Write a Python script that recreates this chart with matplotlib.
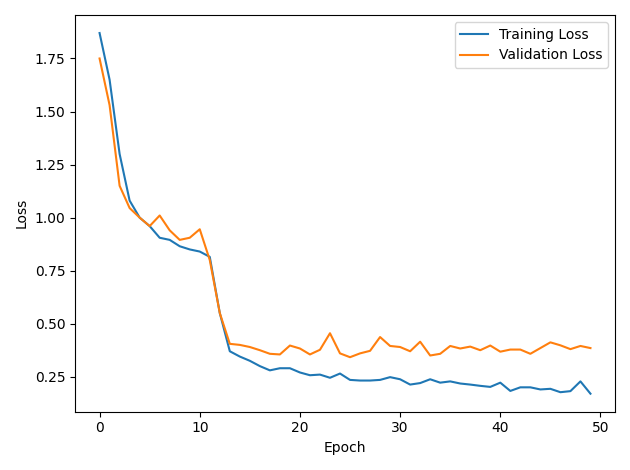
import matplotlib
matplotlib.use("Agg")
import matplotlib.pyplot as plt

epochs = list(range(50))
train_loss = [1.87, 1.65, 1.30, 1.08, 1.00, 0.96, 0.905, 0.895, 0.865, 0.85,
              0.84, 0.815, 0.55, 0.37, 0.345, 0.325, 0.30, 0.28, 0.29, 0.29,
              0.27, 0.257, 0.26, 0.245, 0.265, 0.235, 0.232, 0.232, 0.235, 0.248,
              0.238, 0.213, 0.22, 0.238, 0.222, 0.228, 0.218, 0.213, 0.207, 0.202,
              0.222, 0.183, 0.20, 0.20, 0.19, 0.193, 0.177, 0.182, 0.228, 0.17]
val_loss = [1.75, 1.53, 1.15, 1.045, 1.0, 0.96, 1.01, 0.94, 0.895, 0.905,
            0.945, 0.80, 0.55, 0.405, 0.40, 0.39, 0.375, 0.358, 0.355, 0.397,
            0.383, 0.355, 0.377, 0.455, 0.36, 0.342, 0.36, 0.372, 0.437, 0.395,
            0.39, 0.37, 0.415, 0.35, 0.358, 0.395, 0.383, 0.392, 0.375, 0.397,
            0.368, 0.378, 0.378, 0.358, 0.385, 0.412, 0.398, 0.38, 0.395, 0.385]

fig, ax = plt.subplots(figsize=(6.3, 4.7), dpi=100)
ax.plot(epochs, train_loss, label="Training Loss")
ax.plot(epochs, val_loss, label="Validation Loss")
ax.set_xlabel("Epoch")
ax.set_ylabel("Loss")
ax.legend()
fig.tight_layout()
fig.savefig("out.png")
